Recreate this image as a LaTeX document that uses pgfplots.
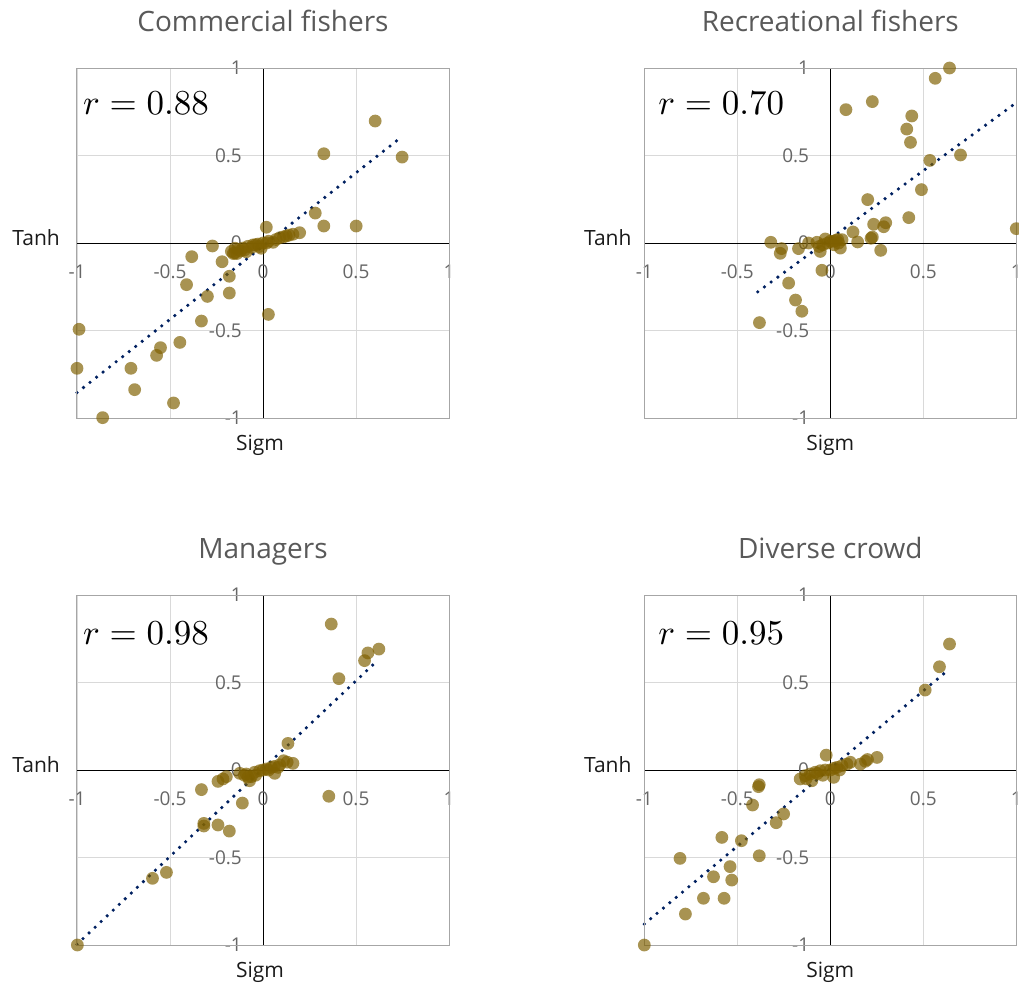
\documentclass[border=0pt]{standalone}
\usepackage{graphicx}
\usepackage{fontspec}
\setmainfont{Open Sans}
\usepackage{pgfplots}
\pgfplotsset{compat=1.18}
\definecolor{titlegray}{HTML}{595959}
\definecolor{tickgray}{HTML}{666666}
\definecolor{labelcol}{HTML}{1A1A1A}
\definecolor{gridgray}{HTML}{D9D9D9}
\definecolor{bordergray}{HTML}{A6A6A6}
\definecolor{markcol}{HTML}{7F6000}
\definecolor{trendcol}{RGB}{0,32,96}
\pgfplotsset{
  panel/.style={
    scale only axis, width=372pt, height=350pt,
    xmin=-1, xmax=1, ymin=-1, ymax=1,
    axis lines=middle,
    axis line style={-, black, line width=1pt},
    hide obscured x ticks=false, hide obscured y ticks=false,
    xtick={-1,-0.5,0,0.5,1}, xticklabels={-1,-0.5,0,0.5,1},
    ytick={-1,-0.5,0,0.5,1}, yticklabels={-1,-0.5,0,0.5,1},
    major tick length=0pt,
    grid=major, grid style={draw=gridgray, line width=0.9pt},
    xticklabel style={anchor=north, inner sep=0pt, yshift=-22pt, text=tickgray, font=\fontsize{19}{22}\selectfont},
    yticklabel style={anchor=east, inner sep=0pt, xshift=-21pt, text=tickgray, font=\fontsize{19}{22}\selectfont},
    clip=false,
  },
  dots/.style={only marks, mark=*, mark size=6.4pt, color=markcol,
    mark options={fill=markcol, fill opacity=0.68, draw opacity=0, line width=0pt}},
  trend/.style={draw=trendcol, line width=3.6pt, line cap=round, dash pattern=on 0pt off 8.3pt},
}
\newcommand{\rval}[1]{\scalebox{3.5}{$r = #1$}}
\tikzset{
  rlab/.style={anchor=base west, inner sep=0pt},
  ttl/.style={anchor=base, inner sep=0pt, text=titlegray, font=\fontsize{28}{32}\selectfont},
  axlab/.style={inner sep=0pt, text=labelcol, font=\fontsize{21}{24}\selectfont},
}
\begin{document}
\begin{tikzpicture}
\path[use as bounding box] (0,0) rectangle (1019pt,-983pt);

% ---------------- Commercial fishers
\begin{axis}[panel, at={(77pt,-68pt)}, anchor=north west]
\addplot[dots] coordinates {
(0.603,0.697) (0.327,0.51) (0.748,0.491) (0.281,0.171) (0.327,0.097) (0.501,0.097)
(0.018,0.09) (0.197,0.059) (0.161,0.05) (0.125,0.04) (0.09,0.03) (0.054,0.004)
(0.02,0.0) (0.0,0.0) (-0.01,-0.03) (-0.027,-0.006) (-0.054,-0.011) (-0.081,-0.019)
(-0.108,-0.029) (-0.134,-0.038) (-0.152,-0.057) (-0.17,-0.048) (-0.16,-0.06) (-0.12,-0.045)
(-0.14,-0.06) (-0.1,-0.04) (-0.06,-0.025) (-0.04,-0.01) (0.03,0.01) (0.07,0.02) (0.11,0.035) (0.14,0.045)
(-0.15,-0.03) (-0.09,-0.05) (-0.02,-0.02)
(-0.272,-0.017) (-0.383,-0.078) (-0.22,-0.107) (-0.181,-0.19) (-0.411,-0.238) (-0.299,-0.305)
(-0.181,-0.286) (0.029,-0.408) (-0.331,-0.446) (-0.989,-0.493) (-0.447,-0.568) (-0.551,-0.598)
(-0.572,-0.642) (-1.0,-0.716) (-0.71,-0.716) (-0.69,-0.838) (-0.481,-0.914) (-0.862,-0.998)
};
\addplot[trend] coordinates {(-1,-0.855) (0.733,0.596)};
\draw[bordergray, line width=1pt] (rel axis cs:0,0) rectangle (rel axis cs:1,1);
\node[rlab] at (axis cs:-0.968,0.735) {\rval{0.88}};
\node[ttl] at (axis cs:0,1) [yshift=36.3pt] {Commercial fishers};
\node[axlab, anchor=base east] at (axis cs:-1,0) [xshift=-17pt, yshift=-2.3pt] {Tanh};
\node[axlab, anchor=base] at (axis cs:0,-1) [yshift=-32pt, xshift=-3pt] {Sigm};
\end{axis}

% ---------------- Recreational fishers
\begin{axis}[panel, at={(644.3pt,-68pt)}, anchor=north west]
\addplot[dots] coordinates {
(0.641,1.0) (0.564,0.941) (0.226,0.808) (0.084,0.762) (0.438,0.726) (0.411,0.651)
(0.431,0.575) (0.535,0.472) (0.700,0.503) (0.49,0.305) (0.201,0.248) (0.422,0.145)
(1.0,0.082) (0.233,0.107) (0.298,0.116) (0.287,0.093) (0.122,0.063) (0.226,0.034)
(0.219,0.027) (0.147,0.006) (0.271,-0.042) (-0.32,0.004) (-0.262,-0.032) (-0.269,-0.059)
(-0.171,-0.032) (-0.117,0.0) (-0.072,0.004) (-0.054,-0.048) (-0.027,0.023) (-0.014,0.0)
(0.018,0.01) (0.045,0.0) (0.054,-0.029) (0.063,0.019) (0.0,0.01) (0.03,0.015) (-0.04,-0.01)
(-0.06,-0.02) (0.02,-0.01) (0.04,0.02)
(-0.045,-0.156) (-0.224,-0.229) (-0.187,-0.326) (-0.153,-0.39) (-0.381,-0.455)
};
\addplot[trend] coordinates {(-0.39,-0.279) (1,0.802)};
\draw[bordergray, line width=1pt] (rel axis cs:0,0) rectangle (rel axis cs:1,1);
\node[rlab] at (axis cs:-0.925,0.735) {\rval{0.70}};
\node[ttl] at (axis cs:0,1) [yshift=36.3pt] {Recreational fishers};
\node[axlab, anchor=base east] at (axis cs:-1,0) [xshift=-12.6pt, yshift=-2.3pt] {Tanh};
\node[axlab, anchor=base] at (axis cs:0,-1) [yshift=-32pt] {Sigm};
\end{axis}

% ---------------- Managers
\begin{axis}[panel, at={(77pt,-595pt)}, anchor=north west]
\addplot[dots] coordinates {
(0.367,0.834) (0.623,0.691) (0.564,0.669) (0.546,0.625) (0.408,0.522) (0.134,0.152)
(0.111,0.053) (0.161,0.038) (0.13,0.045) (0.354,-0.15) (-0.111,-0.189) (-0.331,-0.112)
(-0.242,-0.065) (-0.215,-0.051) (-0.197,-0.038) (-0.318,-0.305) (-0.242,-0.314) (-0.181,-0.349)
(-0.519,-0.585) (-0.594,-0.619) (-0.998,-1.0) (-0.125,-0.019) (-0.09,-0.023) (-0.063,-0.038)
(-0.045,-0.013) (-0.018,-0.004) (0.018,0.006) (0.045,0.015) (0.063,-0.019) (0.081,0.015)
(-0.072,-0.061) (-0.1,-0.03) (0.0,0.0) (0.03,0.0) (0.09,0.03) (-0.04,-0.03) (-0.318,-0.32)
(-0.08,-0.04) (0.06,0.02)
};
\addplot[trend] coordinates {(-1,-0.996) (0.605,0.615)};
\draw[bordergray, line width=1pt] (rel axis cs:0,0) rectangle (rel axis cs:1,1);
\node[rlab] at (axis cs:-0.968,0.72) {\rval{0.98}};
\node[ttl] at (axis cs:0,1) [yshift=36.3pt] {Managers};
\node[axlab, anchor=base east] at (axis cs:-1,0) [xshift=-17pt, yshift=-2.3pt] {Tanh};
\node[axlab, anchor=base] at (axis cs:0,-1) [yshift=-32pt, xshift=-3pt] {Sigm};
\end{axis}

% ---------------- Diverse crowd
\begin{axis}[panel, at={(644.3pt,-595pt)}, anchor=north west]
\addplot[dots] coordinates {
(0.641,0.72) (0.587,0.59) (0.51,0.457) (0.251,0.072) (0.189,0.05) (0.162,0.034) (0.2,0.06)
(-0.022,0.085) (-0.382,-0.084) (-0.386,-0.095) (-0.418,-0.2) (-0.251,-0.251) (-0.291,-0.301)
(-0.583,-0.385) (-0.478,-0.404) (-0.382,-0.49) (-0.808,-0.505) (-0.539,-0.552) (-0.628,-0.61)
(-0.53,-0.629) (-0.682,-0.733) (-0.571,-0.733) (-0.779,-0.823) (-1.0,-1.0)
(-0.162,-0.051) (-0.135,-0.032) (-0.108,-0.023) (-0.081,-0.013) (-0.054,-0.004) (-0.027,0.0)
(0.018,-0.042) (0.036,0.015) (0.063,0.025) (0.09,0.034) (0.108,0.044) (-0.099,-0.061)
(0.0,0.0) (0.05,0.0) (-0.13,-0.05) (-0.07,-0.02) (-0.04,-0.03) (0.02,0.01)
};
\addplot[trend] coordinates {(-1,-0.88) (0.619,0.558)};
\draw[bordergray, line width=1pt] (rel axis cs:0,0) rectangle (rel axis cs:1,1);
\node[rlab] at (axis cs:-0.925,0.72) {\rval{0.95}};
\node[ttl] at (axis cs:0,1) [yshift=36.3pt] {Diverse crowd};
\node[axlab, anchor=base east] at (axis cs:-1,0) [xshift=-12.6pt, yshift=-2.3pt] {Tanh};
\node[axlab, anchor=base] at (axis cs:0,-1) [yshift=-32pt] {Sigm};
\end{axis}
\end{tikzpicture}
\end{document}
